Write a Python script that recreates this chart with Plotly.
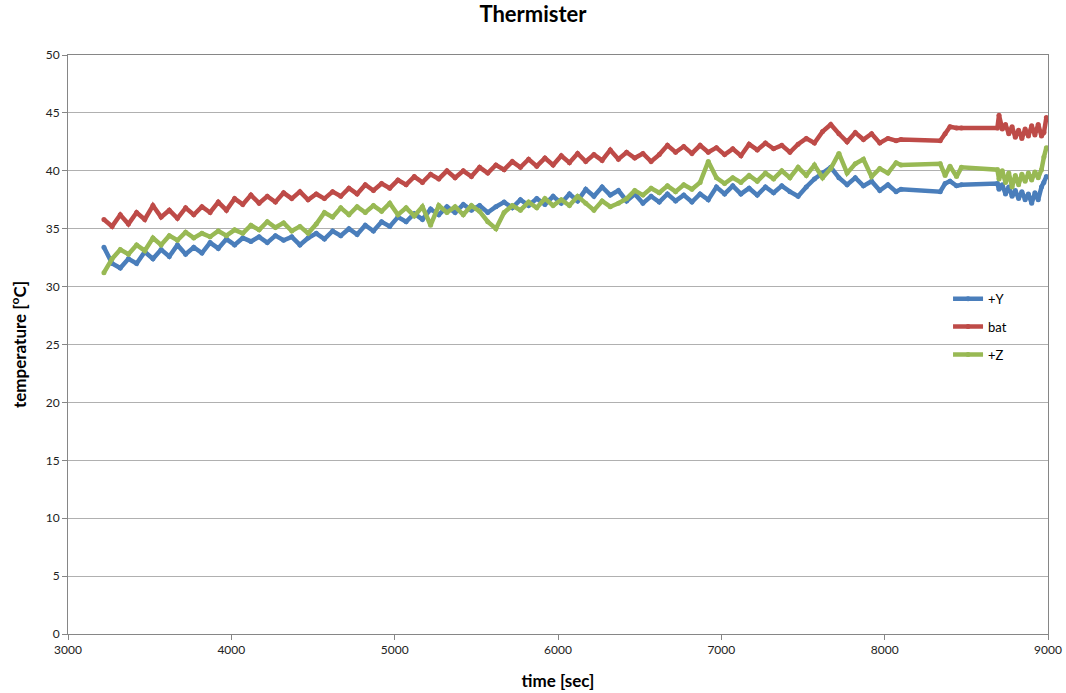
import plotly.graph_objects as go

# ---- data ----
t_dense = [3220, 3270, 3320, 3370, 3420, 3470, 3520, 3570, 3620, 3670,
           3720, 3770, 3820, 3870, 3920, 3970, 4020, 4070, 4120, 4170,
           4220, 4270, 4320, 4370, 4420, 4470, 4520, 4570, 4620, 4670,
           4720, 4770, 4820, 4870, 4920, 4970, 5020, 5070, 5120, 5170,
           5220, 5270, 5320, 5370, 5420, 5470, 5520, 5570, 5620, 5670,
           5720, 5770, 5820, 5870, 5920, 5970, 6020, 6070, 6120, 6170,
           6220, 6270, 6320, 6370, 6420, 6470, 6520, 6570, 6620, 6670,
           6720, 6770, 6820, 6870, 6920, 6970, 7020, 7070, 7120, 7170,
           7220, 7270, 7320, 7370, 7420, 7470, 7520, 7570, 7620, 7670,
           7720, 7770, 7820, 7870, 7920, 7970, 8020, 8070]

y_dense = [33.4, 32.0, 31.6, 32.4, 32.0, 33.0, 32.4, 33.2, 32.6, 33.6,
           32.8, 33.4, 32.9, 33.8, 33.3, 34.1, 33.6, 34.2, 33.9, 34.3,
           33.8, 34.4, 34.0, 34.3, 33.6, 34.2, 34.6, 34.1, 34.8, 34.4,
           35.0, 34.5, 35.3, 34.8, 35.6, 35.2, 36.0, 35.6, 36.3, 35.8,
           36.7, 36.2, 36.9, 36.4, 37.1, 36.6, 37.0, 36.4, 36.9, 37.3,
           36.8, 37.5, 37.0, 37.6, 37.1, 37.8, 37.2, 38.0, 37.4, 38.4,
           37.8, 38.6, 37.9, 38.3, 37.4, 38.0, 37.2, 37.8, 37.3, 38.0,
           37.4, 37.9, 37.3, 38.0, 37.5, 38.6, 38.0, 38.7, 38.0, 38.5,
           37.9, 38.6, 38.1, 38.7, 38.2, 37.8, 38.6, 39.3, 39.8, 40.3,
           39.4, 38.8, 39.4, 38.7, 39.1, 38.3, 38.8, 38.2]

bat_dense = [35.8, 35.2, 36.2, 35.4, 36.4, 35.8, 37.0, 36.0, 36.6, 35.9,
             36.8, 36.2, 36.9, 36.4, 37.3, 36.6, 37.6, 37.1, 37.9, 37.2,
             37.8, 37.3, 38.1, 37.6, 38.2, 37.5, 38.0, 37.6, 38.2, 37.8,
             38.5, 38.0, 38.8, 38.3, 38.9, 38.5, 39.2, 38.8, 39.5, 39.0,
             39.7, 39.3, 40.0, 39.4, 40.0, 39.5, 40.3, 39.8, 40.5, 40.1,
             40.8, 40.3, 41.0, 40.4, 41.1, 40.5, 41.3, 40.7, 41.5, 40.8,
             41.4, 40.9, 41.8, 41.0, 41.6, 41.1, 41.5, 40.8, 41.4, 42.2,
             41.6, 42.1, 41.5, 42.2, 41.6, 42.0, 41.4, 41.9, 41.3, 42.3,
             41.8, 42.4, 41.9, 42.2, 41.6, 42.3, 42.8, 42.4, 43.4, 44.0,
             43.2, 42.5, 43.3, 42.7, 43.2, 42.4, 42.8, 42.6]

z_dense = [31.2, 32.4, 33.2, 32.8, 33.6, 33.1, 34.2, 33.6, 34.4, 34.0,
           34.7, 34.2, 34.6, 34.3, 34.8, 34.4, 34.9, 34.6, 35.3, 34.9,
           35.6, 35.1, 35.5, 34.8, 35.2, 34.6, 35.4, 36.4, 36.0, 36.8,
           36.2, 36.9, 36.4, 37.0, 36.5, 37.2, 36.2, 36.8, 36.1, 36.9,
           35.3, 37.0, 36.4, 36.9, 36.2, 37.0, 36.5, 35.6, 35.0, 36.4,
           37.0, 36.6, 37.3, 36.8, 37.6, 37.0, 37.5, 37.0, 37.8, 37.2,
           36.6, 37.4, 36.9, 37.2, 37.6, 38.3, 37.9, 38.5, 38.1, 38.7,
           38.2, 38.8, 38.4, 39.0, 40.8, 39.4, 38.9, 39.4, 39.0, 39.6,
           39.1, 39.8, 39.3, 40.0, 39.4, 40.3, 39.6, 40.5, 39.4, 40.2,
           41.5, 39.8, 40.6, 41.0, 39.5, 40.2, 39.8, 40.7]

t_sparse = [8100, 8340, 8370, 8400, 8440, 8470, 8690, 8700, 8720, 8740,
            8760, 8780, 8800, 8820, 8840, 8860, 8880, 8900, 8920, 8940,
            8960, 8975, 8990]

y_sparse = [38.4, 38.2, 38.9, 39.1, 38.7, 38.8, 38.9, 38.4, 38.8, 38.0,
            38.6, 37.8, 38.3, 37.6, 38.2, 37.5, 38.0, 37.2, 38.1, 37.5,
            38.6, 39.0, 39.5]

bat_sparse = [42.7, 42.6, 43.2, 43.8, 43.7, 43.7, 43.7, 44.8, 43.6, 44.0,
              43.2, 43.8, 42.9, 43.5, 42.8, 43.6, 43.0, 43.9, 43.1, 44.0,
              43.0, 43.3, 44.6]

z_sparse = [40.5, 40.6, 39.6, 40.4, 39.5, 40.3, 40.1, 39.3, 40.0, 39.0,
            39.8, 38.6, 39.6, 38.8, 39.7, 39.1, 39.8, 39.2, 39.9, 39.4,
            40.1, 41.2, 42.0]

series_names = ["+Y", "bat", "+Z"]
series_colors = ["#4A7EBB", "#BE4B48", "#98B954"]

time = t_dense + t_sparse
values = [y_dense + y_sparse, bat_dense + bat_sparse, z_dense + z_sparse]

x_ticks = [3000, 4000, 5000, 6000, 7000, 8000, 9000]
y_ticks = [0, 5, 10, 15, 20, 25, 30, 35, 40, 45, 50]

FONT = "Lato, 'Open Sans', sans-serif"

fig = go.Figure()
for name, color, vals in zip(series_names, series_colors, values):
    fig.add_trace(go.Scatter(
        x=time, y=vals, name=name, mode="lines+markers", legendgroup=name,
        line=dict(color=color, width=4.5),
        marker=dict(color=color, size=5),
    ))

fig.update_layout(
    width=1066, height=693,
    paper_bgcolor="white", plot_bgcolor="white",
    margin=dict(l=68, r=18, t=55, b=59, autoexpand=False),
    title=dict(text="<b>Thermister</b>", x=0.5, xanchor="center",
               y=0.99, yanchor="top",
               font=dict(family=FONT, size=22, color="black")),
    font=dict(family=FONT, size=12, color="#222"),
    showlegend=True,
    legend=dict(x=0.898, y=0.605, xanchor="left", yanchor="top",
                bgcolor="rgba(0,0,0,0)", font=dict(size=13, color="black"),
                tracegroupgap=8, itemwidth=30),
)

fig.update_xaxes(
    range=[3000, 9000], tickvals=x_ticks, ticks="outside", ticklen=5,
    tickcolor="#868686", showgrid=False, zeroline=False, automargin=False,
    showline=True, linecolor="#868686", linewidth=1, mirror=True,
    tickfont=dict(size=12, color="#222"),
    title=dict(text="<b>time [sec]</b>", font=dict(size=17, color="black"),
               standoff=18),
)
fig.update_yaxes(
    range=[0, 50], tickvals=y_ticks, ticks="outside", ticklen=5,
    tickcolor="#868686", showgrid=True, gridcolor="#B0B0B0", gridwidth=1,
    zeroline=False, showline=True, linecolor="#868686", linewidth=1,
    mirror=True, tickfont=dict(size=12, color="#222"), automargin=False,
    title=dict(text="<b>temperature [<sup>o</sup>C]</b>",
               font=dict(size=17, color="black"), standoff=14),
)

fig.write_html("out.html")
